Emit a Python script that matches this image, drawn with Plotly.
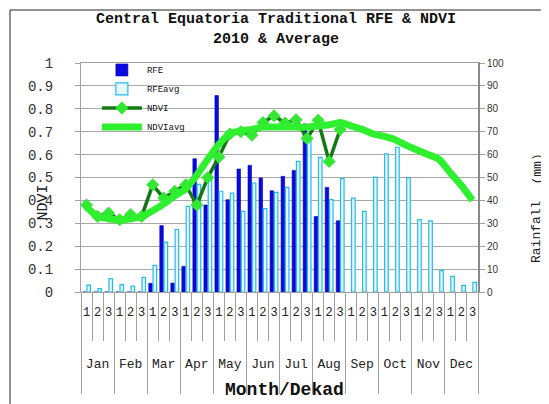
import plotly.graph_objects as go

months = ["Jan", "Feb", "Mar", "Apr", "May", "Jun", "Jul", "Aug", "Sep", "Oct", "Nov", "Dec"]
dekads = ["1", "2", "3"]
ndvi_ticks = [0, 0.1, 0.2, 0.3, 0.4, 0.5, 0.6, 0.7, 0.8, 0.9, 1]
ndvi_ticktext = ["0", "0.1", "0.2", "0.3", "0.4", "0.5", "0.6", "0.7", "0.8", "0.9", "1"]

# RFE 2010 (mm) - available through Aug dekad 3
rfe_2010 = [0, 0, 0, 0, 0, 0, 3.8, 29, 3.9, 11.2, 58.2, 38,
            85.8, 40.3, 53.7, 55.3, 49.8, 44.2, 50.5, 53.1, 73.4, 33, 45.7, 31.1]
# RFE long-term average (mm)
rfe_avg = [3, 1.5, 5.8, 3.2, 2.6, 6.4, 11.6, 21.8, 27.3, 37.4, 47, 49,
           44, 43.2, 35.2, 47.6, 36.4, 43.5, 45.7, 57, 66, 58.8, 40.3, 49.5,
           41, 35.2, 50.2, 60.3, 63.2, 49.8, 31.6, 31.1, 9.3, 6.8, 2.9, 4.2]
# NDVI 2010
ndvi_2010 = [0.38, 0.33, 0.345, 0.315, 0.338, 0.33, 0.468, 0.41, 0.44, 0.468, 0.38, 0.50,
             0.59, 0.69, 0.70, 0.685, 0.74, 0.77, 0.738, 0.752, 0.67, 0.75, 0.57, 0.71]
# NDVI average
ndvi_avg = [0.37, 0.33, 0.32, 0.315, 0.32, 0.33, 0.355, 0.385, 0.42, 0.45, 0.51, 0.58,
            0.645, 0.69, 0.705, 0.71, 0.72, 0.72, 0.72, 0.72, 0.72, 0.725, 0.73, 0.74,
            0.725, 0.71, 0.69, 0.68, 0.665, 0.64, 0.62, 0.60, 0.578, 0.52, 0.465, 0.40]

n = len(months) * len(dekads)
idx = list(range(n))
dekad_labels = [d for m in months for d in dekads]
month_centers = [i * len(dekads) + 1 for i in range(len(months))]
month_bounds = [i * len(dekads) - 0.5 for i in range(len(months) + 1)]
dekad_bounds = [i - 0.5 for i in range(n + 1)]

MONO = "Liberation Mono, DejaVu Sans Mono, monospace"
GRID = "#a8a8a8"

fig = go.Figure()
fig.add_trace(go.Bar(x=idx[:len(rfe_2010)], y=rfe_2010, name="RFE", yaxis="y",
                     marker=dict(color="#0a0ae0", line=dict(color="#0000a8", width=0.6))))
fig.add_trace(go.Bar(x=idx, y=rfe_avg, name="RFEavg", yaxis="y",
                     marker=dict(color="#e6f8fe", line=dict(color="#22bbee", width=1.2))))
fig.add_trace(go.Scatter(x=idx[:len(ndvi_2010)], y=ndvi_2010, name="NDVI", yaxis="y2",
                         mode="lines+markers",
                         line=dict(color="#137a13", width=3.5),
                         marker=dict(symbol="diamond", size=10, color="#33e833")))
fig.add_trace(go.Scatter(x=idx, y=ndvi_avg, name="NDVIavg", yaxis="y2", mode="lines",
                         line=dict(color="#2ef02e", width=7, shape="spline", smoothing=0.5)))
# empty helper traces so the overlay x axes are drawn
fig.add_trace(go.Scatter(x=[], y=[], xaxis="x2", yaxis="y", showlegend=False, hoverinfo="skip"))
fig.add_trace(go.Scatter(x=[], y=[], xaxis="x3", yaxis="y", showlegend=False, hoverinfo="skip"))

L, R, T, B = 73, 79, 55, 120
W, H = 549, 404
pw, ph = W - L - R, H - T - B

def px_x(px):
    return (px - L) / pw

def px_y(py):
    return (H - B - py) / ph

fig.update_layout(
    width=W, height=H,
    margin=dict(l=L, r=R, t=T, b=B, pad=0),
    paper_bgcolor="white", plot_bgcolor="white",
    barmode="group", bargap=0.22, bargroupgap=0.18,
    showlegend=True,
    legend=dict(x=0.04, y=1.033, xanchor="left", yanchor="top",
                bgcolor="rgba(0,0,0,0)", font=dict(family=MONO, size=9, color="#111"),
                tracegroupgap=0, itemwidth=40),
    xaxis=dict(range=[-0.5, n - 0.5], tickmode="array", tickvals=idx, ticktext=dekad_labels,
               ticks="", showgrid=False, zeroline=False, showline=True, mirror=True,
               linecolor="#a0a0a0", linewidth=1,
               tickfont=dict(family=MONO, size=12, color="#222"), ticklabelstandoff=9,
               minor=dict(tickmode="array", tickvals=dekad_bounds, ticks="outside", ticklen=48,
                          tickcolor="#a0a0a0", tickwidth=1, showgrid=False)),
    xaxis2=dict(overlaying="x", anchor="y", side="bottom", range=[-0.5, n - 0.5],
                tickmode="array", tickvals=month_bounds, ticktext=[""] * len(month_bounds),
                ticks="outside", ticklen=101, tickcolor="#a0a0a0", tickwidth=1,
                showticklabels=False, showgrid=False, zeroline=False, showline=False),
    xaxis3=dict(overlaying="x", anchor="y", side="bottom", range=[-0.5, n - 0.5],
                tickmode="array", tickvals=month_centers, ticktext=months, ticks="",
                showgrid=False, zeroline=False, showline=False,
                tickfont=dict(family=MONO, size=13, color="#222"), ticklabelstandoff=62),
    yaxis=dict(side="right", range=[0, 100], tickmode="linear", tick0=0, dtick=10,
               showgrid=True, gridcolor=GRID, gridwidth=1, zeroline=False,
               showline=True, linecolor="#888888", linewidth=2,
               ticks="outside", ticklen=5, tickcolor="#a0a0a0",
               tickfont=dict(family="Liberation Sans, Arial, sans-serif", size=10, color="#333"),
               ticklabelstandoff=0),
    yaxis2=dict(overlaying="y", side="left", range=[0, 1], tickmode="array",
                tickvals=ndvi_ticks, ticktext=ndvi_ticktext,
                showgrid=False, zeroline=False, showline=True, linecolor="#a0a0a0", linewidth=1,
                ticks="outside", ticklen=5, tickcolor="#a0a0a0",
                tickfont=dict(family=MONO, size=14, color="#333"), ticklabelstandoff=19),
    annotations=[
        dict(text="<b>Central Equatoria Traditional RFE & NDVI</b><br><b>2010 & Average</b>",
             x=px_x(268), y=px_y(1), xref="paper", yref="paper", xanchor="center",
             yanchor="top", showarrow=False,
             font=dict(family=MONO, size=15, color="#111")),
        dict(text="NDVI", x=px_x(24), y=px_y(195), xref="paper", yref="paper",
             textangle=-90, showarrow=False, font=dict(family=MONO, size=15, color="#222")),
        dict(text="Rainfall", x=px_x(538), y=px_y(257), xref="paper", yref="paper",
             textangle=-90, showarrow=False, font=dict(family=MONO, size=13, color="#222")),
        dict(text="(mm)", x=px_x(538), y=px_y(161), xref="paper", yref="paper",
             textangle=-90, showarrow=False, font=dict(family=MONO, size=13, color="#222")),
        dict(text="<b>Month/Dekad</b>", x=px_x(276), y=px_y(394), xref="paper", yref="paper",
             showarrow=False, font=dict(family=MONO, size=18, color="#111")),
    ],
    shapes=[dict(type="rect", xref="paper", yref="paper",
                 x0=px_x(2), x1=px_x(545), y0=px_y(397), y1=px_y(2),
                 line=dict(color="#222", width=1), layer="below")],
)

fig.write_html("out.html")
